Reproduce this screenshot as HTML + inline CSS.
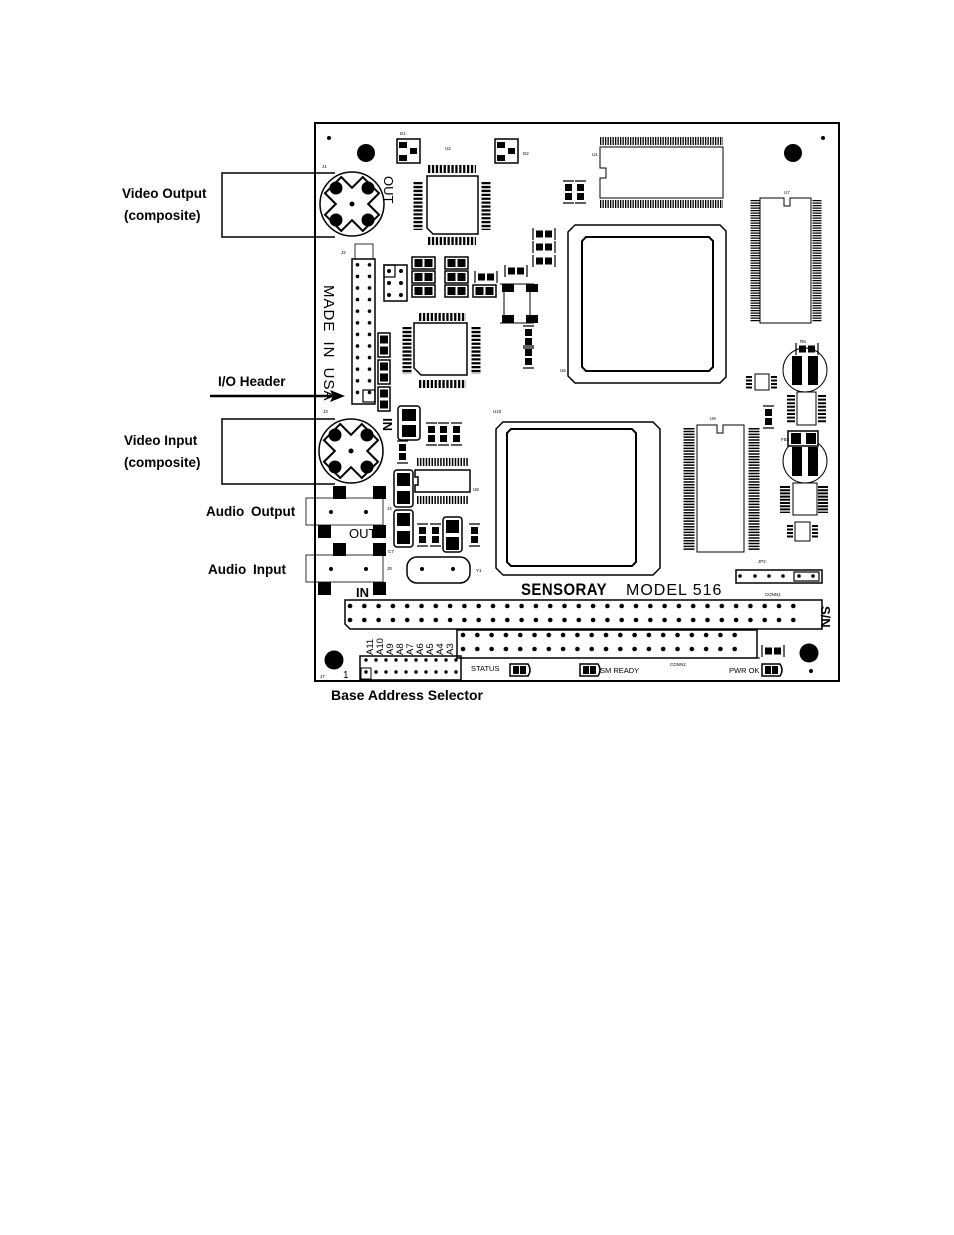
<!DOCTYPE html>
<html><head><meta charset="utf-8"><style>
html,body{margin:0;padding:0;background:#fff;}
svg{display:block;}
text{font-family:"Liberation Sans",Arial,sans-serif;}
</style></head><body>
<svg width="954" height="1235" viewBox="0 0 954 1235" xmlns="http://www.w3.org/2000/svg">
<defs>
<pattern id="c1" x="343" y="599" width="14.3" height="14" patternUnits="userSpaceOnUse"><circle cx="7" cy="7" r="2.3" fill="#000"/></pattern>
<pattern id="c2" x="456" y="628" width="14.3" height="14" patternUnits="userSpaceOnUse"><circle cx="7" cy="7" r="2.3" fill="#000"/></pattern>
<pattern id="j7" x="361" y="654" width="10" height="12" patternUnits="userSpaceOnUse"><circle cx="5" cy="6" r="1.7" fill="#000"/></pattern>
<pattern id="j2" x="352" y="259" width="12" height="11.6" patternUnits="userSpaceOnUse"><circle cx="5.5" cy="5.8" r="1.8" fill="#000"/></pattern>
<g id="fb"><rect x="0" y="0" width="23" height="12" fill="#fff" stroke="#000" stroke-width="1.5"/><rect x="2.5" y="2" width="8" height="8"/><rect x="12.5" y="2" width="8" height="8"/></g>
<g id="fbv"><rect x="0" y="0" width="12" height="24" fill="#fff" stroke="#000" stroke-width="1.5"/><rect x="2" y="2.5" width="8" height="8"/><rect x="2" y="13.5" width="8" height="8"/></g>
<g id="rp"><path d="M0 0v12M22 0v12" stroke="#000" stroke-width="1.2"/><rect x="3" y="2.5" width="7" height="7"/><rect x="12" y="2.5" width="7" height="7"/></g>
<g id="rv"><path d="M0 0h11M0 22h11" stroke="#000" stroke-width="1.2"/><rect x="2" y="3" width="7" height="7"/><rect x="2" y="12" width="7" height="7"/></g>
<clipPath id="cc"><circle cx="0" cy="0" r="32"/></clipPath>
<g id="vc">
<circle r="32" fill="#fff" stroke="#000" stroke-width="1.5"/>
<g clip-path="url(#cc)"><polygon points="-8,-20 0,-12 8,-20 20,-8 12,0 20,8 8,20 0,12 -8,20 -20,8 -12,0 -20,-8" fill="#fff" stroke="#000" stroke-width="1.5" transform="scale(1.35)"/></g>
<circle cx="-16" cy="-16" r="6.5"/><circle cx="16" cy="-16" r="6.5"/><circle cx="-16" cy="16" r="6.5"/><circle cx="16" cy="16" r="6.5"/><circle r="2.5"/>
</g>
</defs>

<!-- board -->
<rect x="315" y="123" width="524" height="558" fill="#fff" stroke="#000" stroke-width="2"/>

<!-- callout labels -->
<g font-weight="bold" font-size="13.5" fill="#000">
<text x="122" y="198">Video Output</text>
<text x="124" y="220">(composite)</text>
<text x="218" y="386">I/O Header</text>
<text x="124" y="445">Video Input</text>
<text x="124" y="467">(composite)</text>
<text x="206" y="516" word-spacing="3">Audio Output</text>
<text x="208" y="574" word-spacing="3">Audio Input</text>
<text x="331" y="700" font-size="14">Base Address Selector</text>
</g>
<rect x="222" y="173" width="93" height="64" fill="none" stroke="#000" stroke-width="1.5"/>
<rect x="222" y="419" width="93" height="65" fill="none" stroke="#000" stroke-width="1.5"/>
<line x1="210" y1="396" x2="335" y2="396" stroke="#000" stroke-width="2.5"/>
<polygon points="345,396 330,390 333,396 330,402" fill="#000"/>
<path d="M315 173h20M315 237h20M315 419h20M315 484h20" stroke="#000" stroke-width="1.5"/>

<!-- mounting holes -->
<circle cx="366" cy="153" r="9"/><circle cx="793" cy="153" r="9"/><circle cx="334" cy="660" r="9.5"/><circle cx="809" cy="653" r="9.5"/>
<circle cx="329" cy="138" r="2"/><circle cx="823" cy="138" r="2"/><circle cx="811" cy="671" r="2"/>

<!-- video connectors -->
<use href="#vc" x="352" y="204"/>
<use href="#vc" x="351" y="451"/>
<text transform="translate(384,176) rotate(90)" font-size="13" font-family="Liberation Sans">OUT</text>
<text transform="translate(383,418) rotate(90)" font-size="13" font-weight="bold">IN</text>
<text transform="translate(324,285) rotate(90)" font-size="15" letter-spacing="1" word-spacing="4">MADE IN USA</text>

<!-- D1 D2 -->
<g stroke="#000" stroke-width="1.5" fill="#fff"><rect x="397" y="139" width="23" height="24"/><rect x="495" y="139" width="23" height="24"/></g>
<rect x="399" y="142" width="8" height="6"/><rect x="399" y="155" width="8" height="6"/><rect x="410" y="148" width="7" height="6"/>
<rect x="497" y="142" width="8" height="6"/><rect x="497" y="155" width="8" height="6"/><rect x="508" y="148" width="7" height="6"/>

<!-- U2 chip -->
<g stroke="#000" fill="none">
<path d="M427 176h51v58h-45l-6-6z" stroke-width="1.5"/>
<line x1="428" y1="169" x2="476" y2="169" stroke-width="8" stroke-dasharray="2.3 1.6"/>
<line x1="428" y1="241" x2="476" y2="241" stroke-width="8" stroke-dasharray="2.3 1.6"/>
<line x1="418" y1="182" x2="418" y2="230" stroke-width="9" stroke-dasharray="2.3 1.6"/>
<line x1="486" y1="182" x2="486" y2="230" stroke-width="9" stroke-dasharray="2.3 1.6"/>
<!-- U6 -->
<path d="M414 323h53v52h-46l-7-7z" stroke-width="1.5"/>
<line x1="419" y1="317" x2="466" y2="317" stroke-width="8" stroke-dasharray="2.3 1.6"/>
<line x1="419" y1="384" x2="466" y2="384" stroke-width="8" stroke-dasharray="2.3 1.6"/>
<line x1="407" y1="327" x2="407" y2="374" stroke-width="9" stroke-dasharray="2.3 1.6"/>
<line x1="476" y1="327" x2="476" y2="374" stroke-width="9" stroke-dasharray="2.3 1.6"/>
<!-- U1 -->
<path d="M600 147h123v51h-123v-20h6v-10h-6z" stroke-width="1"/>
<line x1="600" y1="141" x2="723" y2="141" stroke-width="8" stroke-dasharray="1.3 1.2"/>
<line x1="600" y1="204" x2="723" y2="204" stroke-width="8" stroke-dasharray="1.3 1.2"/>
<!-- U7 right -->
<path d="M760 198h24v8h6v-8h21v125h-51z" stroke-width="1"/>
<line x1="755" y1="200" x2="755" y2="322" stroke-width="9" stroke-dasharray="1.3 1.2"/>
<line x1="817" y1="200" x2="817" y2="322" stroke-width="9" stroke-dasharray="1.3 1.2"/>
<!-- U9 -->
<path d="M697 425h20v8h6v-8h21v127h-47z" stroke-width="1"/>
<line x1="689" y1="428" x2="689" y2="550" stroke-width="11" stroke-dasharray="1.5 1.3"/>
<line x1="754" y1="428" x2="754" y2="550" stroke-width="11" stroke-dasharray="1.5 1.3"/>
<!-- U5 big -->
<path d="M575 225h145l6 6v146l-6 6h-145l-7-7v-144z" stroke-width="1.5"/>
<path d="M586 237h123l4 4v126l-4 4h-123l-4-4v-126z" stroke-width="2"/>
<!-- U10 big -->
<path d="M503 422h150l7 7v139l-7 7h-150l-7-7v-139z" stroke-width="1.5"/>
<path d="M511 429h121l4 4v129l-4 4h-121l-4-4v-129z" stroke-width="2"/>
<!-- U8 -->
<path d="M415 470h55v22h-55v-7h3v-8h-3z" stroke-width="1.5"/>
<line x1="417" y1="462" x2="468" y2="462" stroke-width="8" stroke-dasharray="1.5 1.4"/>
<line x1="417" y1="500" x2="468" y2="500" stroke-width="8" stroke-dasharray="1.5 1.4"/>
<!-- J2 header -->
<rect x="355" y="244" width="18" height="160" stroke-width="0.8"/>
<rect x="352" y="259" width="23" height="145" fill="#fff" stroke-width="1.5"/>
<rect x="363" y="390" width="12" height="12" stroke-width="1.2"/>
<!-- JP1 -->
<rect x="384" y="265" width="23" height="36" stroke-width="1.5"/>
<rect x="384" y="265" width="11" height="12" stroke-width="1.2"/>
<!-- Y1 -->
<rect x="407" y="557" width="63" height="26" rx="10" stroke-width="1.5"/>
<!-- U4 lines -->
<path d="M504 291v26M530 291v26M500 284h34M500 323h34" stroke-width="1"/>
<!-- inductors -->
<circle cx="805" cy="370" r="22" stroke-width="1"/>
<circle cx="805" cy="461" r="22" stroke-width="1"/>
<!-- small ICs -->
<rect x="797" y="392" width="19" height="33" stroke-width="1"/>
<line x1="791" y1="395" x2="791" y2="423" stroke-width="8" stroke-dasharray="2 1.6"/>
<line x1="822" y1="395" x2="822" y2="423" stroke-width="8" stroke-dasharray="2 1.6"/>
<rect x="793" y="483" width="24" height="32" stroke-width="1"/>
<line x1="785" y1="486" x2="785" y2="513" stroke-width="10" stroke-dasharray="2 1.2"/>
<line x1="823" y1="486" x2="823" y2="513" stroke-width="10" stroke-dasharray="2 1.2"/>
<rect x="795" y="522" width="15" height="19" stroke-width="1"/>
<line x1="790" y1="525" x2="790" y2="538" stroke-width="6" stroke-dasharray="2 1.5"/>
<line x1="815" y1="525" x2="815" y2="538" stroke-width="6" stroke-dasharray="2 1.5"/>
<rect x="755" y="374" width="14" height="16" stroke-width="1"/>
<line x1="749" y1="376" x2="749" y2="389" stroke-width="6" stroke-dasharray="2 1.5"/>
<line x1="774" y1="376" x2="774" y2="389" stroke-width="6" stroke-dasharray="2 1.5"/>
<!-- audio jacks -->
<rect x="315" y="498" width="68" height="27" stroke-width="0.8"/>
<rect x="315" y="555" width="68" height="27" stroke-width="0.8"/>
<rect x="306" y="498" width="9" height="27" stroke-width="0.8"/>
<rect x="306" y="555" width="9" height="27" stroke-width="0.8"/>
<!-- JP2 -->
<rect x="736" y="570" width="86" height="13" stroke-width="1.5"/>
<rect x="794" y="572" width="25" height="9" stroke-width="1.2"/>
<!-- CONN1 -->
<path d="M345 600h477v29h-472l-5-5z" fill="#fff" stroke-width="1.5"/>
<!-- CONN2 -->
<rect x="457" y="630" width="300" height="28" stroke-width="1.5"/>
<!-- J7 -->
<rect x="360" y="656" width="101" height="24" stroke-width="1.5"/>
<rect x="361" y="668" width="10" height="11" stroke-width="1"/>
<line x1="457" y1="658" x2="760" y2="658" stroke-width="1"/>
</g>
<rect x="352" y="259" width="23" height="140" fill="url(#j2)"/>
<rect x="343" y="599" width="458" height="28" fill="url(#c1)"/>
<rect x="456" y="628" width="286" height="28" fill="url(#c2)"/>
<rect x="361" y="654" width="100" height="24" fill="url(#j7)"/>
<circle cx="389" cy="271" r="2"/><circle cx="401" cy="271" r="2"/><circle cx="389" cy="283" r="2"/><circle cx="401" cy="283" r="2"/><circle cx="389" cy="295" r="2"/><circle cx="401" cy="295" r="2"/>
<circle cx="740" cy="576" r="1.8"/><circle cx="755" cy="576" r="1.8"/><circle cx="769" cy="576" r="1.8"/><circle cx="783" cy="576" r="1.8"/><circle cx="799" cy="576" r="1.8"/><circle cx="813" cy="576" r="1.8"/>
<circle cx="422" cy="569" r="2"/><circle cx="453" cy="569" r="2"/>
<circle cx="331" cy="512" r="2"/><circle cx="366" cy="512" r="2"/><circle cx="331" cy="569" r="2"/><circle cx="366" cy="569" r="2"/>

<!-- audio pads -->
<rect x="333" y="486" width="13" height="13"/><rect x="373" y="486" width="13" height="13"/>
<rect x="318" y="525" width="13" height="13"/><rect x="373" y="525" width="13" height="13"/>
<rect x="333" y="543" width="13" height="13"/><rect x="373" y="543" width="13" height="13"/>
<rect x="318" y="582" width="13" height="13"/><rect x="373" y="582" width="13" height="13"/>
<text x="349" y="538" font-size="13">OUT</text>
<text x="356" y="597" font-size="13" font-weight="bold">IN</text>

<!-- FB parts -->
<use href="#fb" x="412" y="257"/><use href="#fb" x="412" y="271"/><use href="#fb" x="412" y="285"/>
<use href="#fb" x="445" y="257"/><use href="#fb" x="445" y="271"/><use href="#fb" x="445" y="285"/>
<use href="#fb" x="473" y="285"/>
<use href="#rp" x="475" y="271"/><use href="#rp" x="505" y="265"/>
<use href="#rp" x="533" y="228"/><use href="#rp" x="533" y="241"/><use href="#rp" x="533" y="255"/>
<use href="#rv" x="563" y="181"/><use href="#rv" x="575" y="181"/>
<use href="#rv" x="523" y="326"/><use href="#rv" x="523" y="346"/>
<use href="#fbv" x="378" y="333"/><use href="#fbv" x="378" y="360"/><use href="#fbv" x="378" y="387"/>
<use href="#rv" x="397" y="441"/><use href="#rv" x="426" y="423"/><use href="#rv" x="438" y="423"/><use href="#rv" x="451" y="423"/>
<use href="#rv" x="417" y="524"/><use href="#rv" x="430" y="524"/><use href="#rv" x="469" y="524"/>
<use href="#rv" x="763" y="406"/><use href="#rp" x="796" y="343"/>
<rect x="502" y="284" width="12" height="8"/><rect x="526" y="284" width="12" height="8"/><rect x="502" y="315" width="12" height="8"/><rect x="526" y="315" width="12" height="8"/>
<!-- caps -->
<g fill="#fff" stroke="#000" stroke-width="1.5">
<rect x="398" y="406" width="22" height="34" rx="3"/><rect x="394" y="470" width="19" height="37" rx="3"/><rect x="394" y="510" width="19" height="37" rx="3"/><rect x="443" y="517" width="19" height="35" rx="3"/>
<rect x="788" y="431" width="30" height="15"/>
</g>
<rect x="402" y="409" width="14" height="12"/><rect x="402" y="425" width="14" height="12"/>
<rect x="397" y="473" width="13" height="13"/><rect x="397" y="491" width="13" height="13"/>
<rect x="397" y="513" width="13" height="13"/><rect x="397" y="531" width="13" height="13"/>
<rect x="446" y="520" width="13" height="13"/><rect x="446" y="537" width="13" height="13"/>
<rect x="791" y="433" width="10" height="11"/><rect x="806" y="433" width="10" height="11"/>
<!-- inductor blocks -->
<rect x="792" y="356" width="10" height="29"/><rect x="808" y="356" width="10" height="29"/>
<rect x="792" y="447" width="10" height="29"/><rect x="808" y="447" width="10" height="29"/>
<!-- LEDs -->
<g fill="#fff" stroke="#000" stroke-width="1.5">
<path d="M510 664h18q4 6 0 12h-18z"/><path d="M580 664h18q4 6 0 12h-18z"/><path d="M762 664h18q4 6 0 12h-18z"/>
</g>
<rect x="513" y="666" width="6" height="8"/><rect x="520" y="666" width="6" height="8"/>
<rect x="583" y="666" width="6" height="8"/><rect x="590" y="666" width="6" height="8"/>
<rect x="765" y="666" width="6" height="8"/><rect x="772" y="666" width="6" height="8"/>
<use href="#rp" x="762" y="645"/>

<!-- texts -->
<text x="521" y="595" font-size="17" font-weight="bold" letter-spacing="0.5" transform="translate(521 0) scale(0.88 1) translate(-521 0)">SENSORAY</text>
<text x="626" y="595" font-size="16" letter-spacing="1">MODEL 516</text>
<text transform="translate(821,606) rotate(90)" font-size="13" font-weight="bold">S/N</text>
<g font-size="9.5">
<text transform="translate(373,655) rotate(-90)">A11</text>
<text transform="translate(383,655) rotate(-90)">A10</text>
<text transform="translate(393,655) rotate(-90)">A9</text>
<text transform="translate(403,655) rotate(-90)">A8</text>
<text transform="translate(413,655) rotate(-90)">A7</text>
<text transform="translate(423,655) rotate(-90)">A6</text>
<text transform="translate(433,655) rotate(-90)">A5</text>
<text transform="translate(443,655) rotate(-90)">A4</text>
<text transform="translate(453,655) rotate(-90)">A3</text>
</g>
<text x="343" y="678" font-size="10">1</text>
<g font-size="7.5">
<text x="471" y="671">STATUS</text><text x="600" y="673">SM READY</text><text x="729" y="673">PWR OK</text>
</g>
<g font-size="4.5">
<text x="400" y="135">D1</text><text x="445" y="150">U2</text><text x="523" y="155">D2</text><text x="592" y="156">U1</text>
<text x="784" y="194">U7</text><text x="322" y="168">J1</text><text x="341" y="254">J2</text><text x="323" y="413">J3</text>
<text x="560" y="372">U5</text><text x="493" y="413">U10</text><text x="710" y="420">U9</text><text x="473" y="491">U8</text>
<text x="387" y="510">J4</text><text x="387" y="570">J8</text><text x="388" y="553">C7</text><text x="476" y="572">Y1</text>
<text x="320" y="678">J7</text><text x="670" y="666">CONN2</text><text x="765" y="596">CONN1</text>
<text x="758" y="563">JP2</text><text x="800" y="343">R8</text><text x="781" y="441">FB2</text>
</g>
</svg>
</body></html>
